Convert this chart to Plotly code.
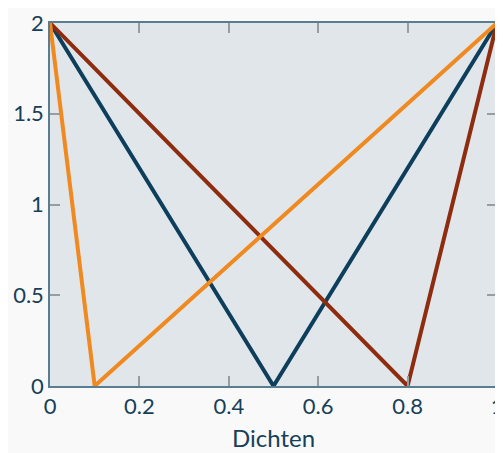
import plotly.graph_objects as go

x_blue = [0, 0.5, 1]
y_blue = [2, 0, 2]
x_red = [0, 0.8, 1]
y_red = [2, 0, 2]
x_orange = [0, 0.1, 1]
y_orange = [2, 0, 2]

fig = go.Figure()
fig.add_trace(go.Scatter(x=x_blue, y=y_blue, mode="lines", line=dict(color="#0d3f5c", width=4)))
fig.add_trace(go.Scatter(x=x_red, y=y_red, mode="lines", line=dict(color="#8e2c0f", width=4)))
fig.add_trace(go.Scatter(x=x_orange, y=y_orange, mode="lines", line=dict(color="#f0891f", width=4)))

axis_common = dict(
    showgrid=False, zeroline=False, showline=True, linecolor="#5b7d90", linewidth=1.5,
    mirror="ticks", ticks="inside", ticklen=10, tickcolor="#959ea3", tickwidth=1.5,
    tickfont=dict(size=22, color="#173f58", family="Lato"),
    ticklabeloverflow="allow",
)
fig.update_layout(
    width=503, height=453,
    margin=dict(l=42, r=14, t=15, b=75, autoexpand=False),
    paper_bgcolor="#f9f9f9", plot_bgcolor="#e1e6ea",
    showlegend=False,
    font=dict(family="Lato", color="#173f58"),
    xaxis=dict(range=[0, 1], tickvals=[0, 0.2, 0.4, 0.6, 0.8, 1], ticktext=["0", "0.2", "0.4", "0.6", "0.8", "1"],
               title=dict(text="Dichten", font=dict(size=24, color="#173f58", family="Lato"), standoff=12), **axis_common),
    yaxis=dict(range=[0, 2], tickvals=[0, 0.5, 1, 1.5, 2], ticktext=["0", "0.5", "1", "1.5", "2"], **axis_common),
)
fig.write_html("out.html")
